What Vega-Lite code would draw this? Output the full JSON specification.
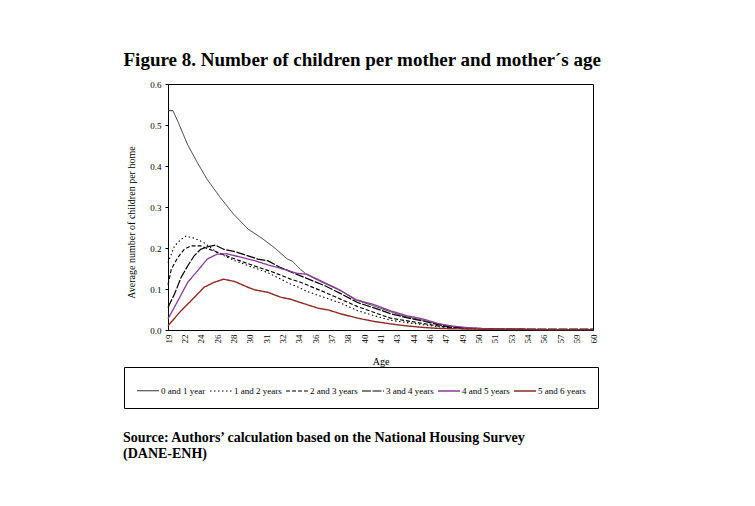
{
  "$schema": "https://vega.github.io/schema/vega-lite/v6.json",
  "autosize": "pad",
  "padding": {"left": 123, "top": 50, "right": 10, "bottom": 10},
  "background": "white",
  "title": {
    "text": ["Source: Authors’ calculation based on the National Housing Survey", "(DANE-ENH)"],
    "orient": "bottom",
    "anchor": "start",
    "frame": "bounds",
    "font": "Liberation Serif",
    "fontSize": 14,
    "fontWeight": "bold",
    "lineHeight": 16,
    "color": "black",
    "offset": 22
  },
  "vconcat": [
    {
      "title": {
        "text": "Figure 8. Number of children per mother and mother´s age",
        "anchor": "start",
        "frame": "bounds",
        "font": "Liberation Serif",
        "fontSize": 19,
        "fontWeight": "bold",
        "color": "black",
        "offset": 10
      },
      "width": 425,
      "height": 246,
      "data": {
        "values": [
          {"series": "0 and 1 year", "age_index": 0, "value": 0.535},
          {"series": "0 and 1 year", "age_index": 0.3, "value": 0.535},
          {"series": "0 and 1 year", "age_index": 0.6, "value": 0.509},
          {"series": "0 and 1 year", "age_index": 1.2, "value": 0.452},
          {"series": "0 and 1 year", "age_index": 1.8, "value": 0.408},
          {"series": "0 and 1 year", "age_index": 2.4, "value": 0.367},
          {"series": "0 and 1 year", "age_index": 3.2, "value": 0.323},
          {"series": "0 and 1 year", "age_index": 4.0, "value": 0.283},
          {"series": "0 and 1 year", "age_index": 4.9, "value": 0.246},
          {"series": "0 and 1 year", "age_index": 5.7, "value": 0.225},
          {"series": "0 and 1 year", "age_index": 6.5, "value": 0.201},
          {"series": "0 and 1 year", "age_index": 7.3, "value": 0.173},
          {"series": "0 and 1 year", "age_index": 7.6, "value": 0.168},
          {"series": "0 and 1 year", "age_index": 8.1, "value": 0.148},
          {"series": "0 and 1 year", "age_index": 8.5, "value": 0.135},
          {"series": "0 and 1 year", "age_index": 9.5, "value": 0.115},
          {"series": "0 and 1 year", "age_index": 10.5, "value": 0.097},
          {"series": "0 and 1 year", "age_index": 11.5, "value": 0.073},
          {"series": "0 and 1 year", "age_index": 12.5, "value": 0.06},
          {"series": "0 and 1 year", "age_index": 13.5, "value": 0.046},
          {"series": "0 and 1 year", "age_index": 14.5, "value": 0.033},
          {"series": "0 and 1 year", "age_index": 15.5, "value": 0.025},
          {"series": "0 and 1 year", "age_index": 16.5, "value": 0.015},
          {"series": "0 and 1 year", "age_index": 17.5, "value": 0.008},
          {"series": "0 and 1 year", "age_index": 18.5, "value": 0.005},
          {"series": "0 and 1 year", "age_index": 19.5, "value": 0.003},
          {"series": "0 and 1 year", "age_index": 21, "value": 0.002},
          {"series": "0 and 1 year", "age_index": 23, "value": 0.001},
          {"series": "0 and 1 year", "age_index": 26, "value": 0.001},

          {"series": "1 and 2 years", "age_index": 0, "value": 0.164},
          {"series": "1 and 2 years", "age_index": 0.4, "value": 0.205},
          {"series": "1 and 2 years", "age_index": 0.8, "value": 0.221},
          {"series": "1 and 2 years", "age_index": 1.1, "value": 0.229},
          {"series": "1 and 2 years", "age_index": 1.6, "value": 0.224},
          {"series": "1 and 2 years", "age_index": 2.2, "value": 0.213},
          {"series": "1 and 2 years", "age_index": 3.0, "value": 0.189},
          {"series": "1 and 2 years", "age_index": 4.1, "value": 0.169},
          {"series": "1 and 2 years", "age_index": 5.1, "value": 0.154},
          {"series": "1 and 2 years", "age_index": 6.1, "value": 0.14},
          {"series": "1 and 2 years", "age_index": 7.1, "value": 0.12},
          {"series": "1 and 2 years", "age_index": 7.5, "value": 0.112},
          {"series": "1 and 2 years", "age_index": 8.0, "value": 0.104},
          {"series": "1 and 2 years", "age_index": 8.5, "value": 0.094},
          {"series": "1 and 2 years", "age_index": 9.6, "value": 0.079},
          {"series": "1 and 2 years", "age_index": 10.6, "value": 0.065},
          {"series": "1 and 2 years", "age_index": 11.6, "value": 0.047},
          {"series": "1 and 2 years", "age_index": 12.6, "value": 0.035},
          {"series": "1 and 2 years", "age_index": 13.6, "value": 0.024},
          {"series": "1 and 2 years", "age_index": 14.6, "value": 0.018},
          {"series": "1 and 2 years", "age_index": 15.6, "value": 0.013},
          {"series": "1 and 2 years", "age_index": 16.5, "value": 0.008},
          {"series": "1 and 2 years", "age_index": 17.3, "value": 0.005},
          {"series": "1 and 2 years", "age_index": 18.5, "value": 0.003},
          {"series": "1 and 2 years", "age_index": 20, "value": 0.001},
          {"series": "1 and 2 years", "age_index": 23, "value": 0.001},
          {"series": "1 and 2 years", "age_index": 26, "value": 0.0},

          {"series": "2 and 3 years", "age_index": 0, "value": 0.11},
          {"series": "2 and 3 years", "age_index": 0.2, "value": 0.148},
          {"series": "2 and 3 years", "age_index": 0.6, "value": 0.177},
          {"series": "2 and 3 years", "age_index": 1.0, "value": 0.197},
          {"series": "2 and 3 years", "age_index": 1.4, "value": 0.205},
          {"series": "2 and 3 years", "age_index": 2.0, "value": 0.205},
          {"series": "2 and 3 years", "age_index": 2.8, "value": 0.193},
          {"series": "2 and 3 years", "age_index": 4.1, "value": 0.173},
          {"series": "2 and 3 years", "age_index": 5.3, "value": 0.156},
          {"series": "2 and 3 years", "age_index": 6.5, "value": 0.14},
          {"series": "2 and 3 years", "age_index": 7.5, "value": 0.124},
          {"series": "2 and 3 years", "age_index": 8.0, "value": 0.118},
          {"series": "2 and 3 years", "age_index": 9.6, "value": 0.092},
          {"series": "2 and 3 years", "age_index": 11.6, "value": 0.057},
          {"series": "2 and 3 years", "age_index": 13.6, "value": 0.029},
          {"series": "2 and 3 years", "age_index": 15.6, "value": 0.016},
          {"series": "2 and 3 years", "age_index": 16.5, "value": 0.01},
          {"series": "2 and 3 years", "age_index": 17.3, "value": 0.006},
          {"series": "2 and 3 years", "age_index": 18.5, "value": 0.003},
          {"series": "2 and 3 years", "age_index": 20, "value": 0.002},
          {"series": "2 and 3 years", "age_index": 23, "value": 0.001},
          {"series": "2 and 3 years", "age_index": 26, "value": 0.001},

          {"series": "3 and 4 years", "age_index": 0, "value": 0.055},
          {"series": "3 and 4 years", "age_index": 0.4, "value": 0.088},
          {"series": "3 and 4 years", "age_index": 0.8, "value": 0.128},
          {"series": "3 and 4 years", "age_index": 1.2, "value": 0.156},
          {"series": "3 and 4 years", "age_index": 1.6, "value": 0.181},
          {"series": "3 and 4 years", "age_index": 2.0, "value": 0.197},
          {"series": "3 and 4 years", "age_index": 2.4, "value": 0.203},
          {"series": "3 and 4 years", "age_index": 2.9, "value": 0.207},
          {"series": "3 and 4 years", "age_index": 3.4, "value": 0.197},
          {"series": "3 and 4 years", "age_index": 4.1, "value": 0.191},
          {"series": "3 and 4 years", "age_index": 4.9, "value": 0.181},
          {"series": "3 and 4 years", "age_index": 5.5, "value": 0.173},
          {"series": "3 and 4 years", "age_index": 6.1, "value": 0.169},
          {"series": "3 and 4 years", "age_index": 6.9, "value": 0.152},
          {"series": "3 and 4 years", "age_index": 8.0, "value": 0.134},
          {"series": "3 and 4 years", "age_index": 8.6, "value": 0.124},
          {"series": "3 and 4 years", "age_index": 9.6, "value": 0.108},
          {"series": "3 and 4 years", "age_index": 10.6, "value": 0.088},
          {"series": "3 and 4 years", "age_index": 11.6, "value": 0.067},
          {"series": "3 and 4 years", "age_index": 12.6, "value": 0.054},
          {"series": "3 and 4 years", "age_index": 13.6, "value": 0.04},
          {"series": "3 and 4 years", "age_index": 14.6, "value": 0.03},
          {"series": "3 and 4 years", "age_index": 15.6, "value": 0.022},
          {"series": "3 and 4 years", "age_index": 16.5, "value": 0.013},
          {"series": "3 and 4 years", "age_index": 17.3, "value": 0.007},
          {"series": "3 and 4 years", "age_index": 18.5, "value": 0.004},
          {"series": "3 and 4 years", "age_index": 19.5, "value": 0.003},
          {"series": "3 and 4 years", "age_index": 21, "value": 0.002},
          {"series": "3 and 4 years", "age_index": 23, "value": 0.002},
          {"series": "3 and 4 years", "age_index": 26, "value": 0.002},

          {"series": "4 and 5 years", "age_index": 0, "value": 0.027},
          {"series": "4 and 5 years", "age_index": 0.6, "value": 0.071},
          {"series": "4 and 5 years", "age_index": 1.2, "value": 0.116},
          {"series": "4 and 5 years", "age_index": 1.8, "value": 0.144},
          {"series": "4 and 5 years", "age_index": 2.4, "value": 0.173},
          {"series": "4 and 5 years", "age_index": 3.0, "value": 0.185},
          {"series": "4 and 5 years", "age_index": 3.6, "value": 0.186},
          {"series": "4 and 5 years", "age_index": 4.5, "value": 0.177},
          {"series": "4 and 5 years", "age_index": 5.3, "value": 0.169},
          {"series": "4 and 5 years", "age_index": 6.1, "value": 0.159},
          {"series": "4 and 5 years", "age_index": 7.1, "value": 0.148},
          {"series": "4 and 5 years", "age_index": 7.9, "value": 0.138},
          {"series": "4 and 5 years", "age_index": 8.5, "value": 0.136},
          {"series": "4 and 5 years", "age_index": 9.5, "value": 0.117},
          {"series": "4 and 5 years", "age_index": 10.5, "value": 0.098},
          {"series": "4 and 5 years", "age_index": 11.5, "value": 0.074},
          {"series": "4 and 5 years", "age_index": 12.6, "value": 0.062},
          {"series": "4 and 5 years", "age_index": 13.6, "value": 0.047},
          {"series": "4 and 5 years", "age_index": 14.6, "value": 0.035},
          {"series": "4 and 5 years", "age_index": 15.6, "value": 0.027},
          {"series": "4 and 5 years", "age_index": 16.5, "value": 0.016},
          {"series": "4 and 5 years", "age_index": 17.3, "value": 0.01},
          {"series": "4 and 5 years", "age_index": 18.5, "value": 0.005},
          {"series": "4 and 5 years", "age_index": 19.5, "value": 0.003},
          {"series": "4 and 5 years", "age_index": 21, "value": 0.002},
          {"series": "4 and 5 years", "age_index": 23, "value": 0.001},
          {"series": "4 and 5 years", "age_index": 26, "value": 0.001},

          {"series": "5 and 6 years", "age_index": 0, "value": 0.0105},
          {"series": "5 and 6 years", "age_index": 0.8, "value": 0.047},
          {"series": "5 and 6 years", "age_index": 1.6, "value": 0.079},
          {"series": "5 and 6 years", "age_index": 2.2, "value": 0.104},
          {"series": "5 and 6 years", "age_index": 2.8, "value": 0.116},
          {"series": "5 and 6 years", "age_index": 3.4, "value": 0.124},
          {"series": "5 and 6 years", "age_index": 4.1, "value": 0.118},
          {"series": "5 and 6 years", "age_index": 4.9, "value": 0.104},
          {"series": "5 and 6 years", "age_index": 5.3, "value": 0.098},
          {"series": "5 and 6 years", "age_index": 6.1, "value": 0.092},
          {"series": "5 and 6 years", "age_index": 6.9, "value": 0.08},
          {"series": "5 and 6 years", "age_index": 7.5, "value": 0.075},
          {"series": "5 and 6 years", "age_index": 8.1, "value": 0.067},
          {"series": "5 and 6 years", "age_index": 9.2, "value": 0.053},
          {"series": "5 and 6 years", "age_index": 9.8, "value": 0.049},
          {"series": "5 and 6 years", "age_index": 10.6, "value": 0.039},
          {"series": "5 and 6 years", "age_index": 11.6, "value": 0.029},
          {"series": "5 and 6 years", "age_index": 12.6, "value": 0.021},
          {"series": "5 and 6 years", "age_index": 13.6, "value": 0.015},
          {"series": "5 and 6 years", "age_index": 14.6, "value": 0.01},
          {"series": "5 and 6 years", "age_index": 15.7, "value": 0.006},
          {"series": "5 and 6 years", "age_index": 16.5, "value": 0.004},
          {"series": "5 and 6 years", "age_index": 17.3, "value": 0.003},
          {"series": "5 and 6 years", "age_index": 19, "value": 0.002},
          {"series": "5 and 6 years", "age_index": 22, "value": 0.001},
          {"series": "5 and 6 years", "age_index": 26, "value": 0.001}
        ]
      },
      "mark": {"type": "line", "interpolate": "linear"},
      "encoding": {
        "x": {
          "field": "age_index",
          "type": "quantitative",
          "scale": {"domain": [0, 26], "nice": false, "zero": false},
          "axis": {
            "title": "Age",
            "values": [0, 1, 2, 3, 4, 5, 6, 7, 8, 9, 10, 11, 12, 13, 14, 15, 16, 17, 18, 19, 20, 21, 22, 23, 24, 25, 26],
            "labelExpr": "['19','22','24','26','28','30','31','32','34','36','37','38','40','41','43','44','46','47','49','50','51','53','54','56','57','59','60'][datum.value]",
            "labelAngle": -90,
            "labelPadding": 4,
            "ticks": false,
            "grid": false,
            "titlePadding": 13
          }
        },
        "y": {
          "field": "value",
          "type": "quantitative",
          "scale": {"domain": [0, 0.6], "nice": false},
          "axis": {
            "title": "Average number of children per home",
            "values": [0, 0.1, 0.2, 0.3, 0.4, 0.5, 0.6],
            "format": ".1f",
            "tickSize": 3,
            "labelPadding": 4,
            "grid": false,
            "titlePadding": 13,
            "titleY": 138
          }
        },
        "color": {
          "field": "series",
          "type": "nominal",
          "scale": {
            "domain": ["0 and 1 year", "1 and 2 years", "2 and 3 years", "3 and 4 years", "4 and 5 years", "5 and 6 years"],
            "range": ["#333333", "#000000", "#000000", "#000000", "#8a3d96", "#8b2b23"]
          },
          "legend": {
            "title": null,
            "orient": "none",
            "legendX": -44,
            "legendY": 283,
            "direction": "horizontal",
            "columns": 6,
            "symbolType": "stroke",
            "symbolSize": 484,
            "labelOffset": 1,
            "columnPadding": 1,
            "padding": 12,
            "strokeColor": "black",
            "labelFont": "Liberation Serif",
            "labelFontSize": 9,
            "labelColor": "black"
          }
        },
        "strokeDash": {
          "field": "series",
          "type": "nominal",
          "scale": {
            "domain": ["0 and 1 year", "1 and 2 years", "2 and 3 years", "3 and 4 years", "4 and 5 years", "5 and 6 years"],
            "range": [[1, 0], [1.5, 2.5], [4, 2], [9, 1.5], [1, 0], [1, 0]]
          }
        },
        "strokeWidth": {
          "field": "series",
          "type": "nominal",
          "scale": {
            "domain": ["0 and 1 year", "1 and 2 years", "2 and 3 years", "3 and 4 years", "4 and 5 years", "5 and 6 years"],
            "range": [1, 1.4, 1.3, 2.5, 1, 1]
          }
        }
      }
    }
  ],
  "resolve": {"legend": {"color": "independent", "strokeDash": "independent", "strokeWidth": "independent"}},
  "config": {
    "view": {"stroke": "black", "strokeWidth": 1},
    "axis": {
      "domainColor": "black",
      "tickColor": "black",
      "labelColor": "black",
      "titleColor": "black",
      "labelFont": "Liberation Serif",
      "titleFont": "Liberation Serif",
      "labelFontSize": 9,
      "titleFontSize": 10,
      "titleFontWeight": "normal"
    }
  }
}
